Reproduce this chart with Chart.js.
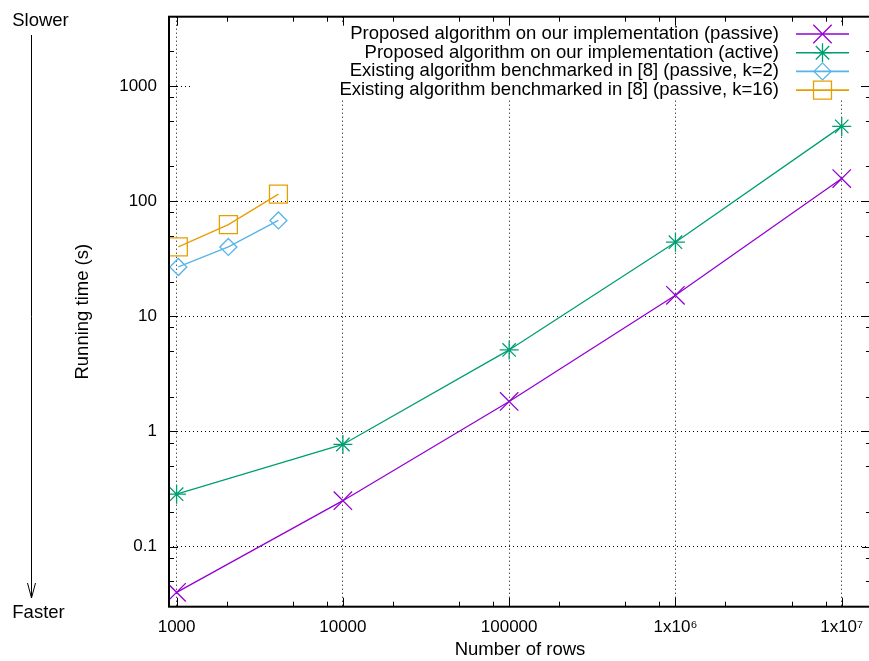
<!DOCTYPE html>
<html><head><meta charset="utf-8">
<script src="https://cdn.jsdelivr.net/npm/chart.js@4.4.1/dist/chart.umd.min.js"></script>
<style>html,body{margin:0;padding:0;overflow:hidden;background:#fff;width:869px;height:661px}canvas{display:block}</style>
</head><body>
<canvas id="c" width="880" height="661"></canvas>
<script>
// ---- data ----
const rowsProposed = [1000, 10000, 100000, 1000000, 10000000];
const passiveTimes = [0.04, 0.25, 1.82, 15.2, 157];
const activeTimes = [0.285, 0.77, 5.1, 44, 446];
const rowsExisting = [1024, 2048, 4096];
const existingK2Times = [26.8, 40, 68];
const existingK16Times = [40, 62.5, 115];
const seriesLabels = [
  'Proposed algorithm on our implementation (passive)',
  'Proposed algorithm on our implementation (active)',
  'Existing algorithm benchmarked in [8] (passive, k=2)',
  'Existing algorithm benchmarked in [8] (passive, k=16)'
];
const xMajorTicks = [1000, 10000, 100000, 1000000, 10000000];
const xTickLabels = ['1000', '10000', '100000', '1x10\u2076', '1x10\u2077'];
const yMajorTicks = [0.1, 1, 10, 100, 1000];
const yTickLabels = ['0.1', '1', '10', '100', '1000'];
const minorMultipliers = [2, 5, 8];
const xTitle = 'Number of rows';
const yTitle = 'Running time (s)';

const FONT = "'Liberation Sans', Arial, sans-serif";
const FS = 17;
const TFS = 18.5;
Chart.defaults.font.family = FONT;
Chart.defaults.font.size = FS;
Chart.defaults.color = '#000';

function pts(xs, ys) { return xs.map((x, i) => ({x: x, y: ys[i]})); }

const colors = ['#9400d3', '#009e73', '#56b4e9', '#e69f00'];
const styles = [
  {pointStyle: 'crossRot', pointRadius: 13},
  {pointStyle: 'star', pointRadius: 9.5},
  {pointStyle: 'rectRot', pointRadius: 8.5},
  {pointStyle: 'rect', pointRadius: 12.7}
];
const seriesData = [
  pts(rowsProposed, passiveTimes),
  pts(rowsProposed, activeTimes),
  pts(rowsExisting, existingK2Times),
  pts(rowsExisting, existingK16Times)
];

const datasets = seriesData.map((d, i) => ({
  label: seriesLabels[i],
  data: d,
  showLine: true,
  borderColor: colors[i],
  backgroundColor: 'transparent',
  borderWidth: 1.3,
  pointBorderColor: colors[i],
  pointBackgroundColor: 'transparent',
  pointBorderWidth: 1.3,
  pointStyle: styles[i].pointStyle,
  pointRadius: styles[i].pointRadius,
  tension: 0
}));

function minorValues(min, max) {
  const out = [];
  for (let e = -3; e <= 8; e++) {
    for (const m of minorMultipliers) {
      const v = m * Math.pow(10, e);
      if (v >= min && v <= max) out.push(v);
    }
  }
  return out;
}

const decorPlugin = {
  id: 'decor',
  afterDatasetsDraw(chart) {
    const ctx = chart.ctx;
    const a = chart.chartArea;
    const xs = chart.scales.x, ys = chart.scales.y;
    ctx.save();
    // opaque key box
    ctx.fillStyle = '#fff';
    ctx.fillRect(192, 22, 666, 78);
    // key entries
    ctx.font = TFS + 'px ' + FONT;
    ctx.textAlign = 'right';
    ctx.textBaseline = 'middle';
    chart.data.datasets.forEach((ds, i) => {
      const y = 34 + i * 18.7;
      ctx.fillStyle = '#000';
      ctx.fillText(ds.label, 779, y);
      ctx.strokeStyle = ds.borderColor;
      ctx.lineWidth = 1.6;
      ctx.beginPath(); ctx.moveTo(796, y); ctx.lineTo(849, y); ctx.stroke();
      ctx.lineWidth = ds.pointBorderWidth;
      ctx.fillStyle = 'rgba(0,0,0,0)';
      Chart.helpers.drawPoint(ctx, {pointStyle: ds.pointStyle, radius: ds.pointRadius, rotation: 0, borderWidth: ds.pointBorderWidth}, 822.5, y);
    });
    // frame
    ctx.strokeStyle = '#000';
    ctx.lineWidth = 2;
    ctx.strokeRect(a.left, a.top, a.right - a.left, a.bottom - a.top);
    // ticks (inward, all sides)
    ctx.lineWidth = 1;
    ctx.beginPath();
    const tickX = (v, len) => {
      const p = Math.round(xs.getPixelForValue(v)) + 0.5;
      ctx.moveTo(p, a.bottom); ctx.lineTo(p, a.bottom - len);
      ctx.moveTo(p, a.top); ctx.lineTo(p, a.top + len);
    };
    const tickY = (v, len) => {
      const p = Math.round(ys.getPixelForValue(v)) + 0.5;
      ctx.moveTo(a.left, p); ctx.lineTo(a.left + len, p);
      ctx.moveTo(a.right, p); ctx.lineTo(a.right - len, p);
    };
    xMajorTicks.forEach(v => tickX(v, 9));
    minorValues(xs.min, xs.max).forEach(v => tickX(v, 5));
    yMajorTicks.forEach(v => tickY(v, 9));
    minorValues(ys.min, ys.max).forEach(v => tickY(v, 5));
    ctx.stroke();
    // Slower / Faster arrow
    ctx.fillStyle = '#000';
    ctx.textAlign = 'center';
    ctx.fillText('Slower', 40.5, 21);
    ctx.fillText('Faster', 38.5, 613);
    ctx.beginPath();
    ctx.moveTo(31.5, 35); ctx.lineTo(31.5, 598);
    ctx.moveTo(27.5, 583); ctx.lineTo(31.5, 598); ctx.lineTo(35.5, 583);
    ctx.stroke();
    ctx.restore();
  }
};

function zeroPad(s) { s.paddingLeft = 0; s.paddingRight = 0; s.paddingTop = 0; s.paddingBottom = 0; }

new Chart(document.getElementById('c'), {
  type: 'scatter',
  data: {datasets: datasets},
  options: {
    responsive: false,
    animation: false,
    events: [],
    layout: {autoPadding: false, padding: {top: 16.7, right: 9, left: 0, bottom: 0}},
    plugins: {legend: {display: false}, tooltip: {enabled: false}},
    scales: {
      x: {
        type: 'logarithmic',
        min: 900, max: 1.5e7,
        afterBuildTicks: s => { s.ticks = xMajorTicks.map(v => ({value: v})); },
        afterFit: s => { s.height = 54.3; zeroPad(s); },
        ticks: {
          autoSkip: false, maxRotation: 0, padding: 10, color: '#000',
          callback: (v) => { const i = xMajorTicks.indexOf(v); return i >= 0 ? xTickLabels[i] : ''; }
        },
        grid: {color: '#000', lineWidth: 1, drawTicks: false},
        border: {display: false, dash: [1, 3]},
        title: {display: true, text: xTitle, color: '#000', font: {size: TFS}, padding: {top: 0, bottom: 0}}
      },
      y: {
        type: 'logarithmic',
        min: 0.03, max: 4000,
        afterBuildTicks: s => { s.ticks = yMajorTicks.map(v => ({value: v})); },
        afterFit: s => { s.width = 169; zeroPad(s); },
        ticks: {
          autoSkip: false, padding: 12, color: '#000',
          callback: (v) => { const i = yMajorTicks.indexOf(v); return i >= 0 ? yTickLabels[i] : ''; }
        },
        grid: {color: '#000', lineWidth: 1, drawTicks: false},
        border: {display: false, dash: [1, 3]},
        title: {display: true, text: yTitle, color: '#000', font: {size: TFS}, padding: {top: 71.5, bottom: 0}}
      }
    }
  },
  plugins: [decorPlugin]
});
</script>
</body></html>
